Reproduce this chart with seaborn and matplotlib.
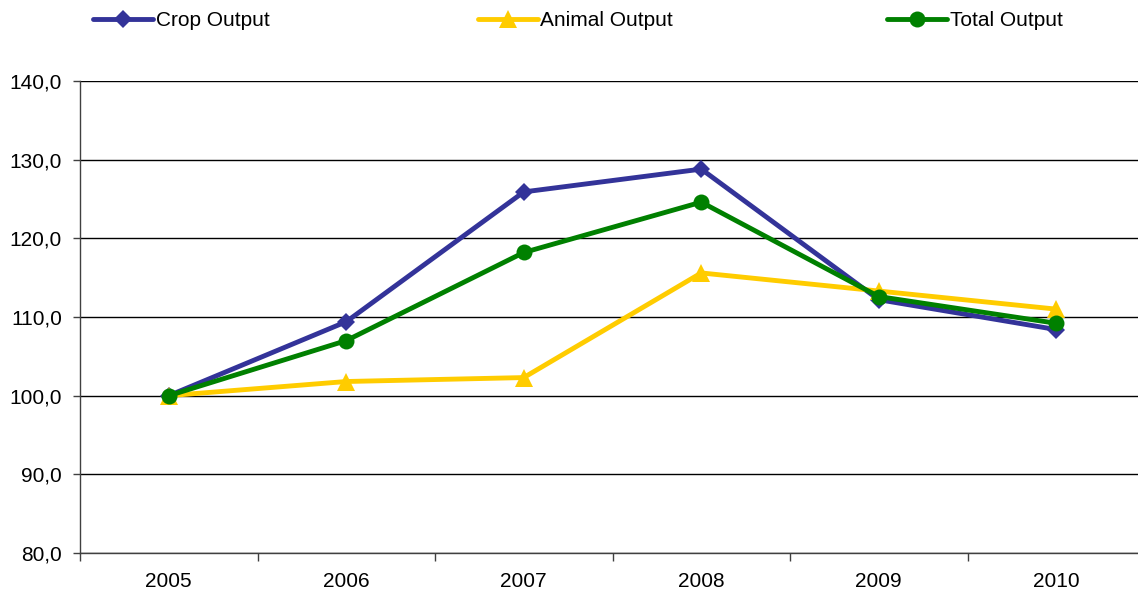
import pandas as pd
import numpy as np
import seaborn as sns
import matplotlib.pyplot as plt
from matplotlib.ticker import FixedLocator, FuncFormatter

# Data (index, 2005 = 100)
years = [2005, 2006, 2007, 2008, 2009, 2010]
crop_output = [100.0, 109.4, 125.9, 128.8, 112.2, 108.4]
animal_output = [100.0, 101.8, 102.3, 115.6, 113.3, 111.0]
total_output = [100.0, 107.0, 118.2, 124.6, 112.6, 109.2]

series_names = ["Crop Output", "Animal Output", "Total Output"]
colors = ["#333399", "#FFCC00", "#008000"]
markers = ["D", "^", "o"]
marker_sizes = [9, 13, 11.5]

df = pd.DataFrame({
    "year": years * 3,
    "value": crop_output + animal_output + total_output,
    "series": sum([[s] * len(years) for s in series_names], []),
})

sns.set_style("white")
plt.rcParams["font.family"] = ["Liberation Sans", "DejaVu Sans"]
plt.rcParams["text.color"] = "black"
plt.rcParams["xtick.color"] = "black"
plt.rcParams["ytick.color"] = "black"

fig = plt.figure(figsize=(11.38, 5.94), dpi=100)
W, H = 1138, 594
ax = fig.add_axes([80 / W, (H - 553) / H, 1065 / W, 472 / H])

sns.lineplot(data=df, x="year", y="value", hue="series", style="series",
             hue_order=series_names, style_order=series_names,
             palette=colors, markers=markers, dashes=False,
             linewidth=3.5, markeredgewidth=0,
             ax=ax, legend=True, clip_on=False)

for line, ms in zip(ax.lines, marker_sizes):
    line.set_markersize(ms)

ax.set_xlim(2004.5, 2010.5)
ax.set_ylim(80, 140)
ax.set_yticks(np.arange(80, 141, 10))
ax.yaxis.set_major_formatter(FuncFormatter(lambda v, p: f"{v:.1f}".replace(".", ",")))
ax.set_xticks(years)
ax.xaxis.set_minor_locator(FixedLocator(np.arange(2004.5, 2011, 1.0)))
ax.tick_params(axis="x", which="both", bottom=True)
ax.tick_params(axis="y", which="both", left=True)
ax.tick_params(axis="x", which="major", length=0, pad=14, labelsize=15, labelcolor="black")
ax.tick_params(axis="x", which="minor", length=6, width=1, color="#404040", direction="out")
ax.tick_params(axis="y", which="major", length=5, width=1, color="#404040",
               direction="out", labelsize=15, pad=8, labelcolor="black")
ax.yaxis.grid(True, color="black", linewidth=1)
ax.set_axisbelow(True)
ax.set_xlabel("")
ax.set_ylabel("")
for side in ["top", "right"]:
    ax.spines[side].set_visible(False)
for side in ["left", "bottom"]:
    ax.spines[side].set_color("#404040")
    ax.spines[side].set_linewidth(1)

handles, labels = ax.get_legend_handles_labels()
ax.get_legend().remove()
for ms, h in zip(marker_sizes, handles):
    h.set_markersize(ms)
legend_x = [93, 478, 887]
for h, lab, x0 in zip(handles, labels, legend_x):
    fig.legend([h], [lab], loc="center left", bbox_to_anchor=(x0 / W, 1 - 21 / H),
               frameon=False, fontsize=15, handlelength=2.9,
               handletextpad=0.1, borderaxespad=0, borderpad=0)

fig.savefig("out.png", dpi=100)
